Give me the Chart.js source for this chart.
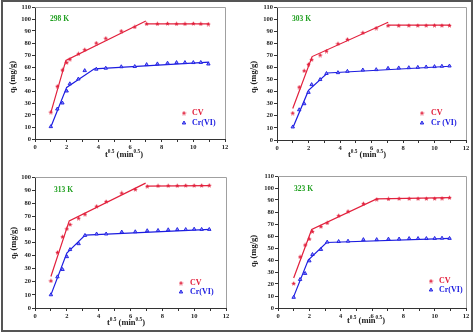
<!DOCTYPE html>
<html>
<head>
<meta charset="utf-8">
<script src="https://cdn.jsdelivr.net/npm/chart.js@4.4.1/dist/chart.umd.min.js"></script>
<style>
  html, body { margin: 0; padding: 0; background: #fff; }
  #wrap { position: relative; width: 474px; height: 333px; overflow: hidden; }
  .panel { position: absolute; }
  #frame { position: absolute; left: 1px; top: 0; width: 468px; height: 328px; border: 2px solid #555; pointer-events: none; }
</style>
</head>
<body>
<div id="wrap">
  <div class="panel" style="left:0;top:0"><canvas id="c298" width="237" height="166"></canvas></div>
  <div class="panel" style="left:237px;top:0"><canvas id="c303" width="237" height="166"></canvas></div>
  <div class="panel" style="left:0;top:166px"><canvas id="c313" width="237" height="167"></canvas></div>
  <div class="panel" style="left:237px;top:166px"><canvas id="c323" width="237" height="167"></canvas></div>
  <div id="frame"></div>
</div>
<script>
// t^0.5 (min^0.5) sampling points
const sqrtTime = [1, 1.41, 1.73, 2, 2.2, 2.74, 3.14, 3.87, 4.47, 5.45, 6.3, 7.05, 7.73, 8.37, 8.94, 9.47, 10, 10.47, 10.95];

// qt (mg/g) per temperature
const cv298 = [22.4, 44, 57.6, 63.7, 66.5, 71, 74.5, 80, 84, 90, 93.4, 96, 96, 96.3, 96, 96, 96.3, 96, 95.8];
const cr298 = [10.3, 25, 30, 40, 46, 50, 57, 58.2, 59, 60.2, 60.4, 62, 62.6, 63.2, 63.7, 63.7, 63.7, 63.8, 62.5];
const cv303 = [22.3, 43.8, 57.3, 62.6, 66.5, 70.3, 73.6, 79.7, 83.3, 88.8, 92.6, 94.6, 94.6, 94.8, 94.8, 94.8, 94.9, 94.8, 94.8];
const cr303 = [10.8, 25, 30, 39.4, 45.8, 50, 55, 55.7, 56.8, 57.9, 58.2, 59.3, 59.6, 59.8, 60.1, 60.4, 60.7, 61, 61.2];
const cv313 = [20.8, 42.5, 54.4, 60.5, 63.8, 68.6, 71.6, 77.7, 81.3, 87.8, 90.6, 92.9, 93.3, 93.4, 93.4, 93.6, 93.6, 93.6, 93.7];
const cr313 = [10.1, 23.8, 29.4, 39.2, 44.6, 49.1, 55.4, 56.5, 56.5, 58, 58.2, 59, 59.2, 59.7, 59.9, 59.9, 60.2, 60, 60];
const cv323 = [20.5, 42.7, 52.6, 57.6, 63.7, 67.9, 70.9, 77, 80.6, 87, 90.6, 90.9, 91.2, 91.2, 91.2, 91.2, 91.3, 91.5, 92];
const cr323 = [8.9, 23.8, 28.8, 39.3, 44.6, 48.8, 54.9, 55.4, 55.7, 57, 57, 57.4, 57.5, 57.9, 57.9, 57.9, 58, 58.2, 58];

// intra-particle diffusion fit segments (null = break)
const cvFitX298 = [1, 1.95, 7.0, 7.0, 7.0, 11];
const cvFitY298 = [22, 65.5, 98.3, null, 96, 96];
const crFitX298 = [1, 2.0, 3.75, 11];
const crFitY298 = [10, 43, 58.5, 64];
const cvFitX303 = [1, 2.23, 7.06, 7.06, 7.06, 11];
const cvFitY303 = [26, 69, 97.4, null, 95, 95];
const crFitX303 = [1, 2.0, 3.2, 11];
const crFitY303 = [10, 41, 55.4, 61];
const cvFitX313 = [1, 2.15, 6.95, 7.0, 7.0, 11];
const cvFitY313 = [24, 66.5, 95.3, null, 93, 93.4];
const crFitX313 = [1, 2.0, 3.15, 11];
const crFitY313 = [10, 42, 55.7, 60];
const cvFitX323 = [1, 2.15, 6.3, 11];
const cvFitY323 = [25, 65.4, 90.9, 92];
const crFitX323 = [1, 1.93, 3.1, 11];
const crFitY323 = [9.5, 40, 54.6, 58];

const tempLabels = ['298 K', '303 K', '313 K', '323 K'];
const xTicks = [0, 2, 4, 6, 8, 10, 12];

const RED = '#e2203c';
const BLUE = '#1c1ce0';
const GREEN = '#20a020';
const SERIF = '"Liberation Serif", "DejaVu Serif", serif';

function toPoints(xs, ys) {
  return xs.map((x, i) => ({ x: x, y: ys[i] }));
}

// tiny star used as the CV marker
function makeStar() {
  const c = document.createElement('canvas');
  c.width = 5; c.height = 5;
  const g = c.getContext('2d');
  g.beginPath();
  for (let i = 0; i < 10; i++) {
    const r = i % 2 === 0 ? 2.4 : 1.1;
    const a = -Math.PI / 2 + i * Math.PI / 5;
    const px = 2.5 + r * Math.cos(a), py = 2.7 + r * Math.sin(a);
    if (i === 0) g.moveTo(px, py); else g.lineTo(px, py);
  }
  g.closePath();
  g.fillStyle = RED;
  g.fill();
  return c;
}
const starImg = makeStar();

function drawRich(ctx, parts, size) {
  let w = 0;
  parts.forEach(p => {
    ctx.font = 'bold ' + (p.s ? size * 0.62 : size) + 'px ' + SERIF;
    p.w = ctx.measureText(p.t).width;
    w += p.w;
  });
  let x = -w / 2;
  parts.forEach(p => {
    ctx.font = 'bold ' + (p.s ? size * 0.62 : size) + 'px ' + SERIF;
    const dy = p.s === 1 ? -size * 0.35 : (p.s === -1 ? size * 0.25 : 0);
    ctx.fillText(p.t, x, dy);
    x += p.w;
  });
}

const panelDecor = {
  id: 'panelDecor',
  afterDraw(chart, args, o) {
    const ctx = chart.ctx, a = chart.chartArea;
    ctx.save();
    // top / right frame of the plot box
    ctx.strokeStyle = '#a0a0a0';
    ctx.lineWidth = 1;
    ctx.beginPath();
    ctx.moveTo(a.left, Math.round(a.top) + 0.5);
    ctx.lineTo(Math.round(a.right) + 0.5, Math.round(a.top) + 0.5);
    ctx.lineTo(Math.round(a.right) + 0.5, a.bottom);
    ctx.stroke();

    // temperature label
    ctx.textBaseline = 'middle';
    ctx.textAlign = 'left';
    ctx.fillStyle = GREEN;
    ctx.font = 'bold 7.5px ' + SERIF;
    ctx.fillText(o.temp, a.left + o.tempDx, a.top + o.tempDy);

    // legend
    const mx = a.right + o.legDx, tx = a.right + o.legTx;
    const y1 = a.bottom + o.legDy1, y2 = a.bottom + o.legDy2;
    ctx.drawImage(starImg, mx - 2.5, y1 - 2.5);
    ctx.fillStyle = '#8a8aff';
    ctx.strokeStyle = BLUE;
    ctx.lineWidth = 0.9;
    Chart.helpers.drawPoint(ctx, { pointStyle: 'triangle', radius: 2, rotation: 0, borderWidth: 0.9 }, mx, y2);
    ctx.font = 'bold 8px ' + SERIF;
    ctx.fillStyle = RED;
    ctx.fillText('CV', tx, y1);
    ctx.fillStyle = BLUE;
    ctx.fillText(o.crLabel, tx, y2);

    // axis titles
    ctx.fillStyle = '#222';
    ctx.textAlign = 'left';
    ctx.textBaseline = 'middle';
    ctx.save();
    ctx.translate(o.yTitleX, o.yTitleY);
    ctx.rotate(-Math.PI / 2);
    drawRich(ctx, [{ t: 'q' }, { t: 't', s: -1 }, { t: ' (mg/g)' }], 8.5);
    ctx.restore();
    ctx.save();
    ctx.translate(o.xTitleX, o.xTitleY);
    drawRich(ctx, [{ t: 't' }, { t: '0.5', s: 1 }, { t: ' (min' }, { t: '0.5', s: 1 }, { t: ')' }], 8.5);
    ctx.restore();
    ctx.restore();
  }
};

const panels = [
  { id: 'c298', cv: cv298, cr: cr298, cvFx: cvFitX298, cvFy: cvFitY298, crFx: crFitX298, crFy: crFitY298,
    yMax: 110, w: 237, h: 166, left: 35, right: 225, top: 7, bottom: 139,
    deco: { temp: tempLabels[0], tempDx: 15, tempDy: 12, legDx: -41, legTx: -33, legDy1: -26, legDy2: -16, crLabel: 'Cr(VI)',
            yTitleX: 13, yTitleY: 77, xTitleX: 124, xTitleY: 155 } },
  { id: 'c303', cv: cv303, cr: cr303, cvFx: cvFitX303, cvFy: cvFitY303, crFx: crFitX303, crFy: crFitY303,
    yMax: 110, w: 237, h: 166, left: 40, right: 229, top: 7, bottom: 140,
    deco: { temp: tempLabels[1], tempDx: 15, tempDy: 12, legDx: -44, legTx: -35, legDy1: -27, legDy2: -17, crLabel: 'Cr (VI)',
            yTitleX: 17, yTitleY: 77, xTitleX: 130, xTitleY: 155 } },
  { id: 'c313', cv: cv313, cr: cr313, cvFx: cvFitX313, cvFy: cvFitY313, crFx: crFitX313, crFy: crFitY313,
    yMax: 100, w: 237, h: 167, left: 35, right: 226, top: 11, bottom: 142,
    deco: { temp: tempLabels[2], tempDx: 19, tempDy: 13, legDx: -45, legTx: -36, legDy1: -25, legDy2: -16, crLabel: 'Cr(VI)',
            yTitleX: 14, yTitleY: 77, xTitleX: 126, xTitleY: 157 } },
  { id: 'c323', cv: cv323, cr: cr323, cvFx: cvFitX323, cvFy: cvFitY323, crFx: crFitX323, crFy: crFitY323,
    yMax: 110, w: 237, h: 167, left: 41, right: 229, top: 10, bottom: 142,
    deco: { temp: tempLabels[3], tempDx: 16, tempDy: 13, legDx: -35, legTx: -27, legDy1: -27, legDy2: -18, crLabel: 'Cr(VI)',
            yTitleX: 17, yTitleY: 85, xTitleX: 129, xTitleY: 155 } }
];

function makeChart(p) {
  const tickFont = { family: SERIF, size: 6.5, weight: 'bold' };
  return new Chart(document.getElementById(p.id), {
    type: 'scatter',
    data: {
      datasets: [
        { label: 'CV', data: toPoints(sqrtTime, p.cv), pointStyle: starImg, pointRadius: 2.5, showLine: false },
        { label: 'Cr(VI)', data: toPoints(sqrtTime, p.cr), pointStyle: 'triangle', pointRadius: 2,
          backgroundColor: '#8a8aff', borderColor: BLUE, borderWidth: 0.9, showLine: false },
        { label: 'CV fit', data: toPoints(p.cvFx, p.cvFy), showLine: true, spanGaps: false, pointRadius: 0,
          borderColor: RED, borderWidth: 1.2, tension: 0 },
        { label: 'Cr fit', data: toPoints(p.crFx, p.crFy), showLine: true, pointRadius: 0,
          borderColor: BLUE, borderWidth: 1.2, tension: 0 }
      ]
    },
    options: {
      responsive: false,
      animation: false,
      layout: { padding: { left: 0, top: p.top, right: p.w - p.right, bottom: 0 } },
      plugins: {
        legend: { display: false },
        tooltip: { enabled: false },
        panelDecor: p.deco
      },
      scales: {
        x: {
          type: 'linear',
          min: 0,
          max: 12,
          afterFit: s => { s.height = p.h - p.bottom; },
          afterBuildTicks: s => { s.ticks = [0, 1, 2, 3, 4, 5, 6, 7, 8, 9, 10, 11, 12].map(v => ({ value: v })); },
          ticks: {
            autoSkip: false,
            maxRotation: 0,
            padding: 1,
            color: '#222',
            font: tickFont,
            callback: v => (xTicks.includes(v) ? v : '')
          },
          grid: { drawOnChartArea: false, tickLength: 3, color: '#333' },
          border: { color: '#333', width: 1 }
        },
        y: {
          min: 0,
          max: p.yMax,
          afterFit: s => { s.width = p.left; },
          ticks: { stepSize: 10, padding: 1, color: '#222', font: tickFont },
          grid: { drawOnChartArea: false, tickLength: 3, color: '#333' },
          border: { color: '#333', width: 1 }
        }
      }
    },
    plugins: [panelDecor]
  });
}

panels.forEach(makeChart);
</script>
</body>
</html>
